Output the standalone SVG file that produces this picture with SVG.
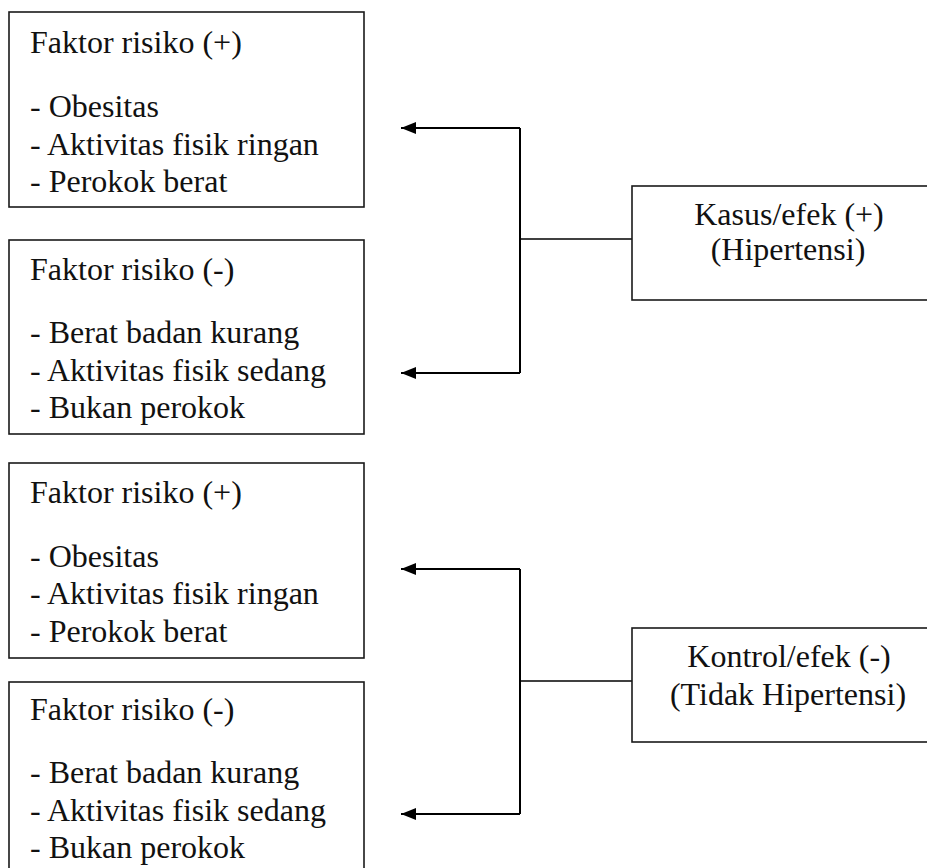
<svg xmlns="http://www.w3.org/2000/svg" width="927" height="868" viewBox="0 0 927 868">
<style>
.box{fill:#fff;stroke:#1a1a1a;stroke-width:1.6}
text{font-family:'Liberation Serif','Times New Roman',Times,'Tinos','DejaVu Serif',serif;font-size:32px;fill:#111}
.c{text-anchor:middle}
.ln{fill:none;stroke:#000;stroke-width:2}
.thin{fill:none;stroke:#000;stroke-width:1.6}
</style>
<defs>
<marker id="ah" markerWidth="15" markerHeight="12" refX="15" refY="6" orient="auto" markerUnits="userSpaceOnUse">
<path d="M0,0 L15,6 L0,12 Z" fill="#000"/>
</marker>
</defs>
<rect width="927" height="868" fill="#fff"/>
<g id="connectors">
<path class="ln" d="M520,128 L520,373"/>
<path class="ln" d="M520,128 L401,128" marker-end="url(#ah)"/>
<path class="ln" d="M520,373 L401,373" marker-end="url(#ah)"/>
<path class="thin" d="M520,239 L632,239"/>
<path class="ln" d="M520,569 L520,814"/>
<path class="ln" d="M520,569 L401,569" marker-end="url(#ah)"/>
<path class="ln" d="M520,814 L401,814" marker-end="url(#ah)"/>
<path class="thin" d="M520,681 L632,681"/>
</g>
<g id="risk1" font-family="Liberation Serif, serif">
<rect class="box" x="9" y="12" width="355" height="195"/>
<text x="30" y="53">Faktor risiko (+)</text>
<text x="30" y="117">- Obesitas</text>
<text x="30" y="155">- Aktivitas fisik ringan</text>
<text x="30" y="192">- Perokok berat</text>
</g>
<g id="risk2">
<rect class="box" x="9" y="240" width="355" height="194"/>
<text x="30" y="280">Faktor risiko (-)</text>
<text x="30" y="343">- Berat badan kurang</text>
<text x="30" y="381">- Aktivitas fisik sedang</text>
<text x="30" y="418">- Bukan perokok</text>
</g>
<g id="risk3">
<rect class="box" x="9" y="463" width="355" height="195"/>
<text x="30" y="503">Faktor risiko (+)</text>
<text x="30" y="567">- Obesitas</text>
<text x="30" y="604">- Aktivitas fisik ringan</text>
<text x="30" y="642">- Perokok berat</text>
</g>
<g id="risk4">
<rect class="box" x="9" y="682" width="355" height="200"/>
<text x="30" y="720">Faktor risiko (-)</text>
<text x="30" y="783">- Berat badan kurang</text>
<text x="30" y="821">- Aktivitas fisik sedang</text>
<text x="30" y="858">- Bukan perokok</text>
</g>
<g id="kasus">
<rect class="box" x="632" y="186" width="320" height="114"/>
<text class="c" x="789" y="225">Kasus/efek (+)</text>
<text class="c" x="788" y="260">(Hipertensi)</text>
</g>
<g id="kontrol">
<rect class="box" x="632" y="628" width="320" height="114"/>
<text class="c" x="789" y="667">Kontrol/efek (-)</text>
<text class="c" x="788" y="705">(Tidak Hipertensi)</text>
</g>
</svg>
